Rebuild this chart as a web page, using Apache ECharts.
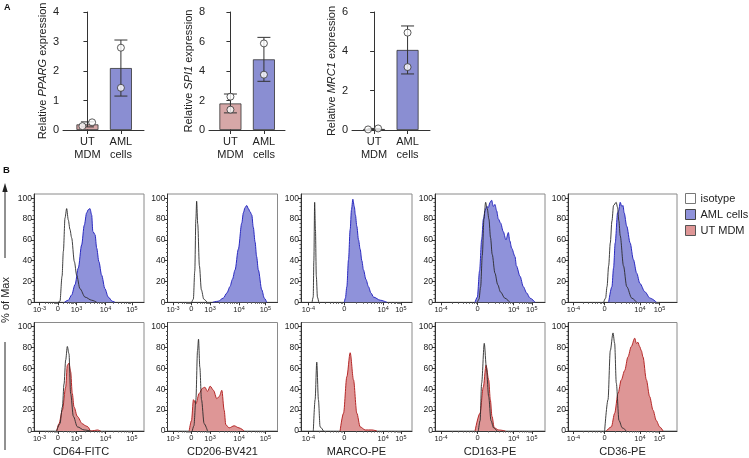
<!DOCTYPE html>
<html>
<head>
<meta charset="utf-8">
<script src="https://cdn.jsdelivr.net/npm/echarts@6/dist/echarts.min.js"></script>
<style>
html, body { margin: 0; padding: 0; background: #fff; }
#chart { width: 749px; height: 458px; }
</style>
</head>
<body>
<div id="chart"></div>
<script>
// ---- panel A: qPCR bars ----
const groups = ['UT\nMDM', 'AML\ncells']
const genes = ['PPARG', 'SPI1', 'MRC1']
const ppargMean = [0.19, 2.1]
const ppargSd = [0.085, 0.95]
const ppargPts = [[0.13, 0.26], [2.79, 1.43]]
const spi1Mean = [1.8, 4.79]
const spi1Sd = [0.64, 1.49]
const spi1Pts = [[2.26, 1.38], [5.87, 3.75]]
const mrc1Mean = [0.05, 4.07]
const mrc1Sd = [0.03, 1.22]
const mrc1Pts = [[0.03, 0.08], [4.95, 3.2]]
const yMaxA = [4, 8, 6]
const yStepA = [1, 2, 2]

// ---- panel B: histograms, x in % of plot width, y in % of max ----
const markers = ['CD64-FITC', 'CD206-BV421', 'MARCO-PE', 'CD163-PE', 'CD36-PE']
const ticksCd64 = [5, 21.7, 38.7, 65, 89]
const ticksCd64Text = ['10^-3', '0', '10^3', '10^4', '10^5']
const ticksMarco = [6.6, 39, 74, 90]
const ticksCd163 = [5.5, 38.8, 71.5, 88]
const ticksCd36 = [5, 33.6, 66, 84]
const ticksPeText = ['10^-4', '0', '10^4', '10^5']

const cd64Iso1 = [[22,0],[23.6,1],[25.5,25],[26.7,49],[28.2,81],[29.7,90],[31.2,79],[32.7,70],[34.2,62],[36.7,39],[38.8,26],[41.8,13],[46.4,5],[52.4,2],[57,0]]
const cd64Aml = [[27.6,0],[31.2,2],[34.2,7],[37.3,17],[40.3,33],[43.3,55],[45.7,74],[47.9,86],[49.4,89],[50.9,90],[52.4,84],[53.5,68],[55.5,65],[57,52],[59,39],[61.5,26],[64.5,13],[67.5,5],[71.2,1],[73.6,0]]
const cd206Iso1 = [[22,0],[23.5,3],[24.8,30],[25.8,80],[26.5,97],[27.5,75],[29,35],[30.8,12],[33,3],[36,0]]
const cd206Aml = [[41,0],[46,1],[50.7,4],[54,9],[56.8,15],[59,22],[61.4,31],[64.4,51],[67.5,76],[69,86],[70.5,91],[72,93],[73.5,90],[75,87],[76.6,84],[78,72],[79.6,58],[81,44],[82.6,31],[85.7,12],[88,4],[90.2,0]]
const marcoIso1 = [[10,0],[11,5],[11.6,40],[12.3,96],[13,70],[13.8,25],[14.8,5],[16,0]]
const marcoAml = [[39,0],[40,4],[41.3,15],[42.8,41],[44.3,70],[45.5,89],[46.7,99],[48,92],[49,84],[50.3,73],[51.8,60],[53.3,51],[54.8,40],[56.3,31],[58.5,22],[60.8,15],[63,9],[65.4,5],[71.4,2],[77.4,0]]
const cd163Iso1 = [[38.5,0],[40,3],[41.5,15],[43,45],[44.5,80],[46,96],[47.5,90],[49,80],[50.5,62],[52,46],[54.5,28],[57,17],[59.5,10],[63.5,4],[68,0]]
const cd163Aml = [[36.4,0],[38.5,5],[40.5,30],[42.4,60],[44,80],[45.5,88],[47,92],[48.5,91],[50,96],[51.5,98],[53,92],[54.5,94],[56,88],[57.6,80],[59.7,76],[62,68],[64.5,60],[66.7,67],[68,59],[69.7,52],[72.7,44],[74,35],[77.3,25],[80.3,15],[83.3,9],[86.4,4],[91,0]]
const cd36Iso1 = [[32.7,0],[34.5,4],[35.8,15],[37.3,35],[38.8,57],[40.3,78],[41.8,93],[44.2,96],[45.5,91],[46.7,78],[47.9,64],[50.9,35],[53.9,15],[58.5,4],[63,0]]
const cd36Aml = [[37.3,0],[40.3,15],[41.8,33],[43.3,57],[45.5,86],[46.5,88],[47.9,96],[49.4,92],[50.5,93],[51.5,86],[53.9,73],[57,57],[60,41],[63,28],[66,18],[70.6,10],[75.2,4],[81.2,0]]

const cd64Iso2 = [[20.6,0],[23.6,7],[25.8,23],[27.3,45],[28.8,68],[30.3,81],[31.8,74],[33.3,36],[35.8,14],[39.4,4],[45.5,1],[51.5,0]]
const cd64Ut = [[20.6,0],[22.7,7],[25.8,20],[28.8,42],[30.3,63],[31.8,65],[33.3,57],[34.8,36],[36.4,23],[39.4,14],[43.9,7],[47,5],[49,4],[51.5,0],[55,0.5],[57.6,1],[60.6,0]]
const cd206Iso2 = [[22.5,0],[24,5],[25.8,30],[27.3,77],[28.2,88],[29.4,61],[30.9,30],[33.3,7],[36.4,0]]
const cd206Ut = [[19.7,0],[21.8,10],[23.6,30],[25.8,26],[28.8,36],[31.8,41],[33.9,42],[36.4,38],[38.8,43],[41.8,39],[44.8,31],[47,33],[49.4,39],[51.5,20],[53,6],[56,3],[60.6,5],[65,3],[69.7,0]]
const marcoIso2 = [[11.1,0],[12.7,30],[14.2,66],[15.7,30],[17.2,4],[20.2,0]]
const marcoUt = [[35.2,0],[38.3,17],[41.3,52],[44.3,75],[47.3,49],[50.3,17],[53.3,4],[57.8,1],[63.9,1],[68.4,0]]
const cd163Iso2 = [[39.4,0],[41,10],[42.4,46],[44.8,84],[46.7,61],[48.8,33],[50.9,10],[53.3,3],[56.4,0]]
const cd163Ut = [[36.4,0],[40.9,17],[43.9,42],[46.4,63],[48.8,49],[50.3,30],[51.8,14],[53.9,3],[57.9,1],[64,0]]
const cd36Iso2 = [[33.6,0],[36.7,30],[38.8,77],[41.3,94],[42.8,84],[44.3,46],[46.8,10],[49.8,3],[53.5,0]]
const cd36Ut = [[35.2,0],[39.8,4],[42.8,17],[45.9,36],[48.9,49],[52,58],[55,71],[58.1,81],[61.2,89],[62.7,84],[64.2,85],[65.7,81],[67.3,77],[68.8,71],[71.9,49],[74.9,33],[78,20],[81,10],[84.1,4],[87.2,0]]

const font = "'Liberation Sans', Arial, Helvetica, sans-serif"
const ink = '#222'
const barUt = '#d6a7a7'
const barAml = '#8a8ed2'
const fillAml = '#8f92da'
const lineAml = '#2a2ac0'
const fillUt = '#de9696'
const lineUt = '#b52828'

const chart = echarts.init(document.getElementById('chart'), null, { renderer: 'canvas' })

const grid = []
const xAxis = []
const yAxis = []
const series = []

// ---------- panel A ----------
const aLayout = [[63, 81, -0.73, 1.69], [209, 76, -0.64, 1.63], [352, 78, -0.66, 1.67]]
const aMeans = [ppargMean, spi1Mean, mrc1Mean]
const aSds = [ppargSd, spi1Sd, mrc1Sd]
const aPts = [ppargPts, spi1Pts, mrc1Pts]
const aJitter = [[[-0.15, 0.14], [0, 0]], [[0, 0], [0, 0]], [[-0.18, 0.12], [0, 0]]]

function errRender(params, api) {
  const x = api.value(0)
  const lo = api.coord([x, api.value(1)])
  const hi = api.coord([x, api.value(2)])
  const w = 6.5
  const st = { stroke: '#333', lineWidth: 1 }
  return {
    type: 'group',
    children: [
      { type: 'line', shape: { x1: lo[0], y1: lo[1], x2: hi[0], y2: hi[1] }, style: st },
      { type: 'line', shape: { x1: hi[0] - w, y1: hi[1], x2: hi[0] + w, y2: hi[1] }, style: st },
      { type: 'line', shape: { x1: lo[0] - w, y1: lo[1], x2: lo[0] + w, y2: lo[1] }, style: st },
    ],
  }
}

for (let i = 0; i < 3; i++) {
  const [left, width, xmin, xmax] = aLayout[i]
  grid.push({ left: left, top: 12, width: width, height: 118 })
  xAxis.push({
    gridIndex: i, type: 'value', min: xmin, max: xmax,
    axisLine: { show: true, onZero: false, lineStyle: { color: '#333', width: 1 } },
    axisTick: { show: true, customValues: [0, 1], length: 4, lineStyle: { color: '#333' } },
    axisLabel: {
      customValues: [0, 1], formatter: (v) => groups[Math.round(v)],
      fontSize: 11, color: ink, fontFamily: font, lineHeight: 13.5, margin: 5,
    },
    splitLine: { show: false },
  })
  yAxis.push({
    gridIndex: i, type: 'value', min: 0, max: yMaxA[i], interval: yStepA[i],
    name: 'Relative {i|' + genes[i] + '} expression',
    nameLocation: 'middle', nameGap: 15,
    nameTextStyle: {
      fontSize: 11, color: ink, fontFamily: font,
      rich: { i: { fontStyle: 'italic', fontSize: 11, color: ink, fontFamily: font } },
    },
    axisLine: { show: true, lineStyle: { color: '#333', width: 1 } },
    axisTick: { show: true, length: 4, lineStyle: { color: '#333' } },
    axisLabel: { fontSize: 11, color: ink, fontFamily: font, margin: 4 },
    splitLine: { show: false },
  })
  series.push({
    type: 'bar', xAxisIndex: i, yAxisIndex: i, barWidth: 22, silent: true,
    itemStyle: { borderColor: '#333', borderWidth: 0.8 },
    data: aMeans[i].map((m, j) => ({ value: [j, m], itemStyle: { color: j === 0 ? barUt : barAml } })),
    z: 2,
  })
  series.push({
    type: 'custom', xAxisIndex: i, yAxisIndex: i, silent: true,
    renderItem: errRender,
    encode: { x: 0, y: [1, 2] },
    data: aMeans[i].map((m, j) => [j, m - aSds[i][j], m + aSds[i][j]]),
    z: 3,
  })
  const pts = []
  aPts[i].forEach((arr, j) => arr.forEach((v, k) => pts.push([j + aJitter[i][j][k], v])))
  series.push({
    type: 'scatter', xAxisIndex: i, yAxisIndex: i, silent: true,
    symbol: 'circle', symbolSize: 7,
    itemStyle: { color: '#fff', borderColor: '#333', borderWidth: 1 },
    data: pts, z: 4,
  })
}

// ---------- panel B ----------
const bLefts = [34, 167.5, 301, 435, 568]
const bWidths = [110, 110, 111, 110, 109]
const bTops = [194, 322.5]
const bHeights = [108.3, 108.5]
const bTicks = [ticksCd64, ticksCd64, ticksMarco, ticksCd163, ticksCd36]
const bTickText = [ticksCd64Text, ticksCd64Text, ticksPeText, ticksPeText, ticksPeText]
const isoCurves = [
  [cd64Iso1, cd206Iso1, marcoIso1, cd163Iso1, cd36Iso1],
  [cd64Iso2, cd206Iso2, marcoIso2, cd163Iso2, cd36Iso2],
]
const cellCurves = [
  [cd64Aml, cd206Aml, marcoAml, cd163Aml, cd36Aml],
  [cd64Ut, cd206Ut, marcoUt, cd163Ut, cd36Ut],
]

function supLabel(t) {
  if (t.indexOf('^') < 0) return '{b|' + t + '}'
  const p = t.split('^')
  return '{b|' + p[0] + '}{s|' + p[1] + '}'
}
function minorOf(tk) {
  const out = []
  for (let i = 0; i < tk.length - 1; i++) {
    for (let k = 2; k < 10; k++) out.push(tk[i] + (tk[i + 1] - tk[i]) * Math.log10(k))
  }
  return out
}
const yMajor = [0, 20, 40, 60, 80, 100]
const yMinor = []
for (let v = 4; v < 100; v += 4) if (v % 20 !== 0) yMinor.push(v)

for (let r = 0; r < 2; r++) {
  for (let c = 0; c < 5; c++) {
    const p = r * 5 + c
    const gi = 3 + p
    const xa = 3 + 2 * p
    const tk = bTicks[c]
    const tt = bTickText[c]
    grid.push({
      left: bLefts[c], top: bTops[r], width: bWidths[c], height: bHeights[r],
      show: true, borderColor: '#8a8a8a', borderWidth: 1, backgroundColor: 'transparent',
    })
    xAxis.push({
      gridIndex: gi, type: 'value', min: 0, max: 100, position: 'bottom',
      axisLine: { show: true, onZero: false, lineStyle: { color: '#333', width: 1 } },
      axisTick: { show: true, customValues: tk, length: 3, lineStyle: { color: '#333' } },
      axisLabel: {
        customValues: tk, margin: 3,
        formatter: (v) => {
          const k = tk.findIndex((t) => Math.abs(t - v) < 0.01)
          return k < 0 ? '' : supLabel(tt[k])
        },
        rich: {
          b: { fontSize: 7.5, color: ink, fontFamily: font, verticalAlign: 'bottom' },
          s: { fontSize: 5.5, color: ink, fontFamily: font, verticalAlign: 'top', padding: [0, 0, 3, 0] },
        },
      },
      splitLine: { show: false },
      name: r === 1 ? markers[c] : '',
      nameLocation: 'middle', nameGap: 15,
      nameTextStyle: {
        fontSize: 11, color: ink, fontFamily: font,
        padding: c === 0 ? [0, 16, 0, 0] : 0,
      },
    })
    xAxis.push({
      gridIndex: gi, type: 'value', min: 0, max: 100, position: 'bottom', offset: 0,
      axisLine: { show: false },
      axisTick: { show: true, customValues: minorOf(tk), length: 1.5, lineStyle: { color: '#555' } },
      axisLabel: { show: false },
      splitLine: { show: false },
    })
    yAxis.push({
      gridIndex: gi, type: 'value', min: 0, max: 104, position: 'left',
      axisLine: { show: true, lineStyle: { color: '#333', width: 1 } },
      axisTick: { show: true, customValues: yMajor, length: 3, lineStyle: { color: '#333' } },
      axisLabel: { customValues: yMajor, fontSize: 8.5, color: ink, fontFamily: font, margin: 2 },
      splitLine: { show: false },
    })
    yAxis.push({
      gridIndex: gi, type: 'value', min: 0, max: 104, position: 'left', offset: 0,
      axisLine: { show: false },
      axisTick: { show: true, customValues: yMinor, length: 1.5, lineStyle: { color: '#555' } },
      axisLabel: { show: false },
      splitLine: { show: false },
    })
    const fill = r === 0 ? fillAml : fillUt
    const edge = r === 0 ? lineAml : lineUt
    series.push({
      type: 'line', name: r === 0 ? 'AML cells' : 'UT MDM',
      xAxisIndex: xa, yAxisIndex: xa, data: cellCurves[r][c],
      smooth: 0.3, smoothMonotone: 'x', symbol: 'none', silent: true,
      lineStyle: { color: edge, width: 1 },
      itemStyle: { color: fill },
      areaStyle: { color: fill, opacity: 1 },
      z: 2,
    })
    series.push({
      type: 'line', name: 'isotype',
      xAxisIndex: xa, yAxisIndex: xa, data: isoCurves[r][c],
      smooth: 0.3, smoothMonotone: 'x', symbol: 'none', silent: true,
      lineStyle: { color: '#2a2a2a', width: 0.9 },
      itemStyle: { color: '#fff' },
      z: 3,
    })
  }
}

const option = {
  backgroundColor: '#fff',
  animation: false,
  textStyle: { fontFamily: font },
  grid: grid,
  xAxis: xAxis,
  yAxis: yAxis,
  series: series,
  legend: {
    orient: 'vertical', left: 685, top: 193, padding: 0,
    itemWidth: 10, itemHeight: 10, itemGap: 5, icon: 'rect', selectedMode: false,
    textStyle: { fontSize: 11, color: ink, fontFamily: font },
    data: [
      { name: 'isotype', itemStyle: { color: '#fff', borderColor: '#777', borderWidth: 1 } },
      { name: 'AML cells', itemStyle: { color: fillAml, borderColor: '#444', borderWidth: 1 } },
      { name: 'UT MDM', itemStyle: { color: fillUt, borderColor: '#555', borderWidth: 1 } },
    ],
  },
  graphic: [
    { type: 'text', left: 4, top: 3, style: { text: 'A', font: 'bold 9px ' + font, fill: '#111' } },
    { type: 'text', left: 3, top: 165, style: { text: 'B', font: 'bold 9.5px ' + font, fill: '#111' } },
    { type: 'line', shape: { x1: 5, y1: 190, x2: 5, y2: 258 }, style: { stroke: '#222', lineWidth: 1 } },
    { type: 'polygon', shape: { points: [[5, 183], [2.3, 192], [7.7, 192]] }, style: { fill: '#222' } },
    { type: 'line', shape: { x1: 5, y1: 342, x2: 5, y2: 450 }, style: { stroke: '#222', lineWidth: 1 } },
    {
      type: 'text', x: 6, y: 300, rotation: Math.PI / 2,
      style: { text: '% of Max', fontSize: 11, fontFamily: font, fill: ink, align: 'center', verticalAlign: 'middle' },
    },
  ],
}

chart.setOption(option)
</script>
</body>
</html>
